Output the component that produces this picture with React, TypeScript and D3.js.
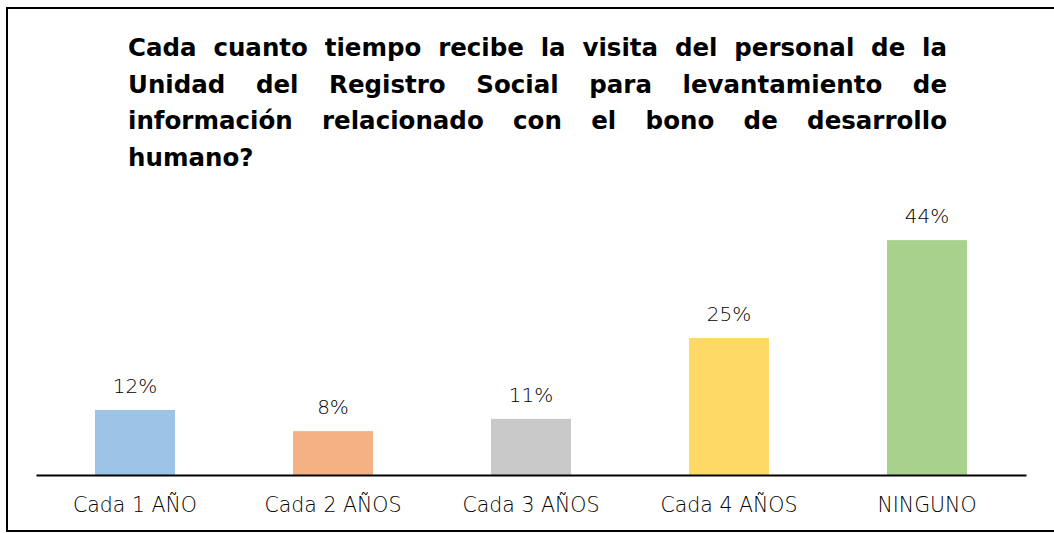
import React, { useRef, useEffect } from 'react';
import * as d3 from 'd3';

const categories = ['Cada 1 AÑO', 'Cada 2 AÑOS', 'Cada 3 AÑOS', 'Cada 4 AÑOS', 'NINGUNO'];
const values = [12.15, 8.2, 10.5, 25.6, 43.9];
const valueLabels = ['12%', '8%', '11%', '25%', '44%'];
const colors = ['#9DC3E6', '#F4B183', '#C9C9C9', '#FFD966', '#A9D18E'];
const titleLines = [
  'Cada cuanto tiempo recibe la visita del personal de la',
  'Unidad del Registro Social para levantamiento de',
  'información relacionado con el bono de desarrollo',
  'humano?',
];

const width = 1054;
const height = 533;
const base = 475;
const titleFont = '"DejaVu Sans", "Open Sans", sans-serif';
const labelFont = '"DejaVu Sans", "Noto Sans", sans-serif';

const App = () => {
  const svgRef = useRef<SVGSVGElement>(null);

  useEffect(() => {
    const svg = d3.select(svgRef.current);
    svg.selectAll('*').remove();

    svg.append('rect')
      .attr('width', width).attr('height', height).attr('fill', '#fff');

    // frame (right edge runs off the picture)
    svg.append('rect')
      .attr('x', 7).attr('y', 8).attr('width', 1070).attr('height', 523)
      .attr('fill', 'none').attr('stroke', '#000').attr('stroke-width', 2);

    // justified title
    const left = 128, right = 947;
    titleLines.forEach((line, i) => {
      const y = 56 + i * 36.7;
      const words = line.split(' ');
      const nodes = words.map((w) => svg.append('text')
        .attr('y', y)
        .attr('font-family', titleFont)
        .attr('font-weight', 'bold')
        .attr('font-size', 24.5)
        .attr('fill', '#000')
        .text(w));
      const widths = nodes.map((n) => (n.node() as SVGTextElement).getComputedTextLength());
      const total = d3.sum(widths);
      const last = i === titleLines.length - 1;
      const gap = last || words.length < 2 ? 8 : (right - left - total) / (words.length - 1);
      let x = left;
      nodes.forEach((n, j) => {
        n.attr('x', x);
        x += widths[j] + gap;
      });
    });

    const x = d3.scaleBand().domain(categories).range([36, 1026])
      .paddingInner(0.596).paddingOuter(0.298);
    const y = d3.scaleLinear().domain([0, 50]).range([base, base - 267.5]);

    svg.selectAll('.bar')
      .data(values)
      .enter()
      .append('rect')
      .attr('x', (d, i) => x(categories[i])!)
      .attr('y', (d) => y(d))
      .attr('width', x.bandwidth())
      .attr('height', (d) => y(0) - y(d))
      .attr('fill', (d, i) => colors[i]);

    svg.selectAll('.vlabel')
      .data(values)
      .enter()
      .append('text')
      .attr('x', (d, i) => x(categories[i])! + x.bandwidth() / 2)
      .attr('y', (d) => y(d) - 17)
      .attr('text-anchor', 'middle')
      .attr('font-family', labelFont)
      .attr('font-weight', 300)
      .attr('font-size', 20)
      .attr('fill', '#000')
      .text((d, i) => valueLabels[i]);

    const axis = svg.append('g')
      .attr('transform', `translate(0, ${base})`)
      .call(d3.axisBottom(x).tickSize(0).tickPadding(22));
    axis.select('.domain').attr('stroke', '#000').attr('stroke-width', 2);
    axis.selectAll('text')
      .attr('font-family', labelFont)
      .attr('font-weight', 300)
      .attr('font-size', 20.5)
      .attr('fill', '#000');
  }, []);

  return (
    <svg ref={svgRef} width={width} height={height}
      style={{ position: 'absolute', left: 0, top: 0 }} />
  );
};

export default App;
